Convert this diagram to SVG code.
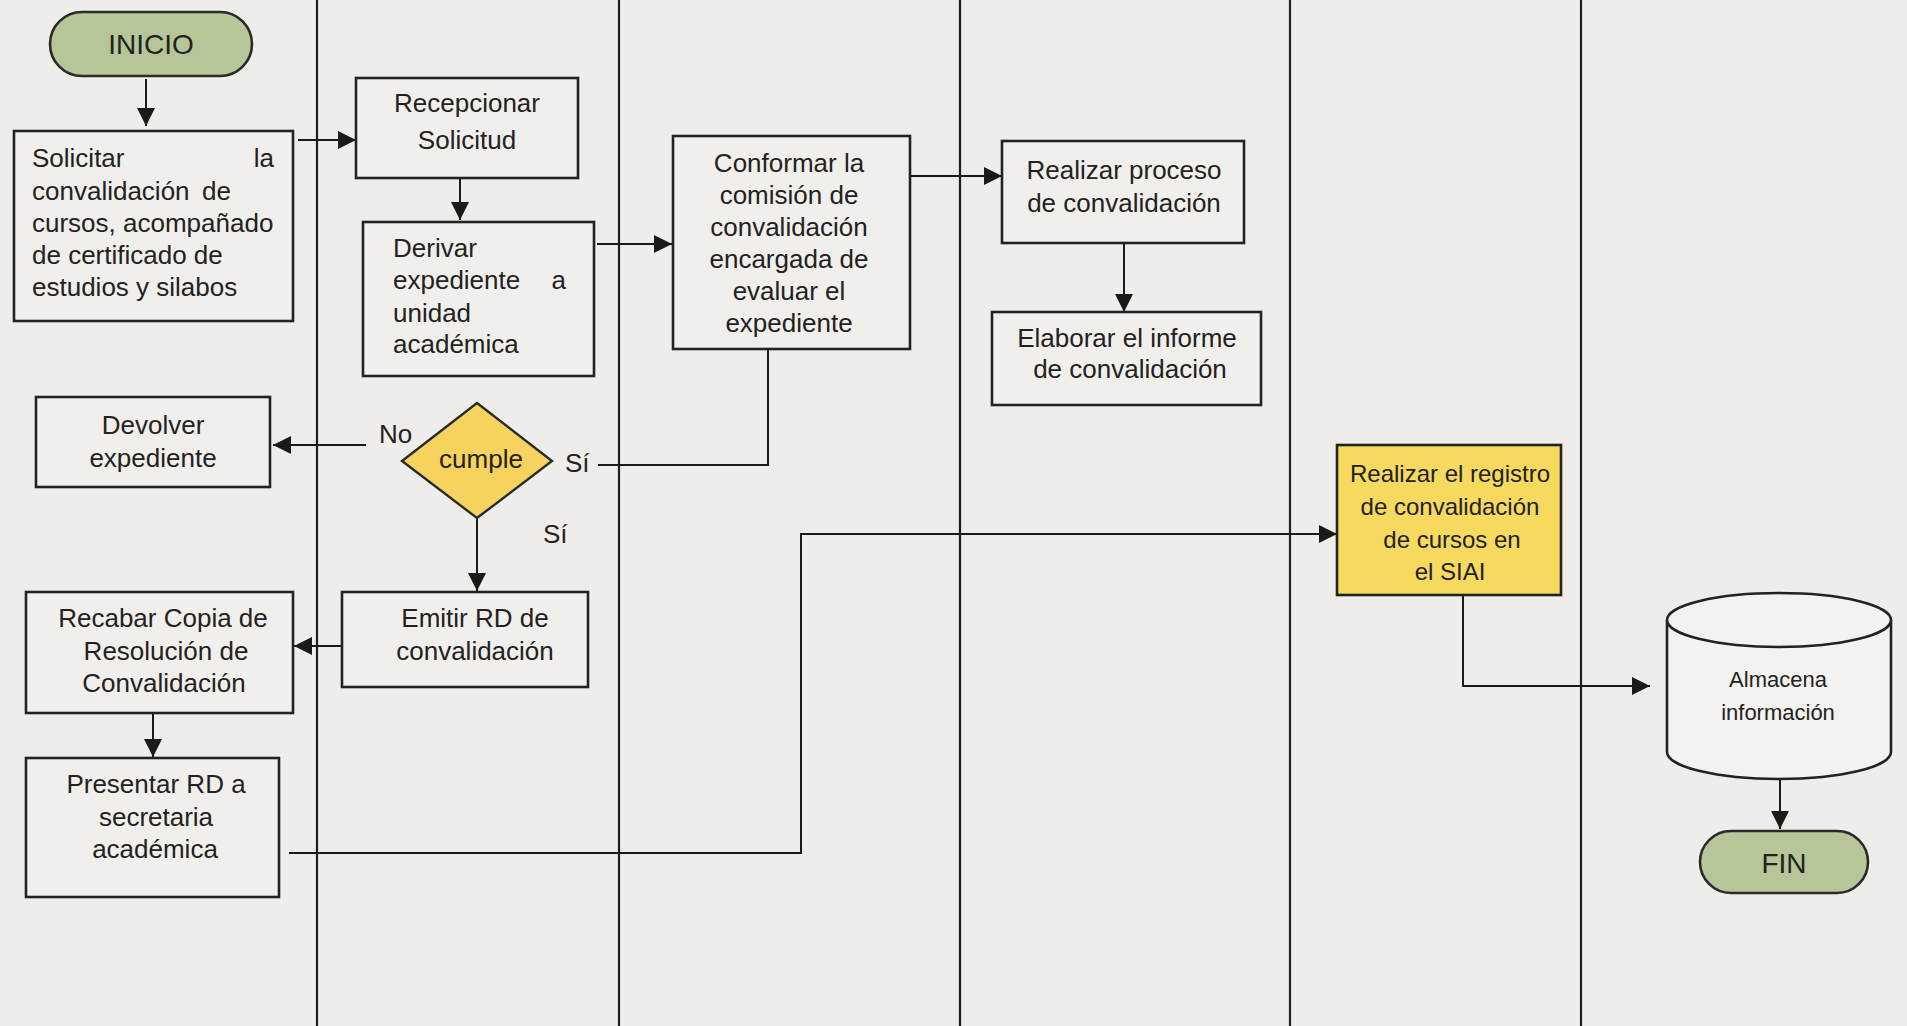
<svg xmlns="http://www.w3.org/2000/svg" width="1907" height="1026" viewBox="0 0 1907 1026">
<defs>
<style>
.bg{fill:#efede9}
.lane{stroke:#1e1e1e;stroke-width:2.2;fill:none}
.box{fill:#f1efeb;stroke:#222;stroke-width:2.6}
.term{fill:#b6c699;stroke:#2a2a2a;stroke-width:2.6}
.dec{fill:#f6d35e;stroke:#2a2a2a;stroke-width:2.4}
.hl{fill:#f7d95f;stroke:#222;stroke-width:2.6}
.cyl{fill:#f3f2ef;stroke:#222;stroke-width:2.6}
.conn{stroke:#1a1a1a;stroke-width:2;fill:none}
.arr{marker-end:url(#ah)}
text{font-family:"Liberation Sans",Arial,sans-serif;font-size:26px;fill:#222}
.c{text-anchor:middle}
.e{text-anchor:end}
.big{font-size:28px}
.sm{font-size:22px}
.md{font-size:24px}
</style>
<marker id="ah" markerUnits="userSpaceOnUse" markerWidth="20" markerHeight="18" refX="18" refY="9" orient="auto">
<path d="M0,0 L18,9 L0,18 Z" fill="#1a1a1a"/>
</marker>
</defs>
<rect class="bg" x="0" y="0" width="1907" height="1026"/>
<g id="lanes">
<line class="lane" x1="317" y1="0" x2="317" y2="1026"/>
<line class="lane" x1="619" y1="0" x2="619" y2="1026"/>
<line class="lane" x1="960" y1="0" x2="960" y2="1026"/>
<line class="lane" x1="1290" y1="0" x2="1290" y2="1026"/>
<line class="lane" x1="1581" y1="0" x2="1581" y2="1026"/>
</g>
<g id="connectors">
<line class="conn arr" x1="146" y1="79" x2="146" y2="126"/>
<line class="conn arr" x1="298" y1="140" x2="356" y2="140"/>
<line class="conn arr" x1="460" y1="178" x2="460" y2="220"/>
<line class="conn arr" x1="597" y1="244" x2="672" y2="244"/>
<line class="conn arr" x1="910" y1="176" x2="1002" y2="176"/>
<line class="conn arr" x1="1124" y1="243" x2="1124" y2="312"/>
<polyline class="conn" points="768,350 768,465 598,465"/>
<line class="conn arr" x1="366" y1="445" x2="273" y2="445"/>
<line class="conn arr" x1="477" y1="518" x2="477" y2="591"/>
<line class="conn arr" x1="351" y1="646" x2="294" y2="646"/>
<line class="conn arr" x1="153" y1="713" x2="153" y2="757"/>
<polyline class="conn arr" points="289,853 801,853 801,534 1337,534"/>
<polyline class="conn arr" points="1463,595 1463,686 1650,686"/>
<line class="conn arr" x1="1780" y1="779" x2="1780" y2="829"/>
</g>
<g id="inicio">
<rect class="term" x="50" y="12" width="202" height="64" rx="32"/>
<text class="c big" x="151" y="54">INICIO</text>
</g>
<g id="solicitar">
<rect class="box" x="14" y="131" width="279" height="190"/>
<text x="32" y="167">Solicitar</text>
<text class="e" x="274" y="167">la</text>
<text x="32" y="200">convalidación</text>
<text class="e" x="231" y="200">de</text>
<text x="32" y="232">cursos, acompañado</text>
<text x="32" y="264">de certificado de</text>
<text x="32" y="296">estudios y silabos</text>
</g>
<g id="recepcionar">
<rect class="box" x="356" y="78" width="222" height="100"/>
<text class="c" x="467" y="112">Recepcionar</text>
<text class="c" x="467" y="149">Solicitud</text>
</g>
<g id="derivar">
<rect class="box" x="363" y="222" width="231" height="154"/>
<text x="393" y="257">Derivar</text>
<text x="393" y="289">expediente</text>
<text class="e" x="566" y="289">a</text>
<text x="393" y="322">unidad</text>
<text x="393" y="353">académica</text>
</g>
<g id="conformar">
<rect class="box" x="673" y="136" width="237" height="213"/>
<text class="c" x="789" y="172">Conformar la</text>
<text class="c" x="789" y="204">comisión de</text>
<text class="c" x="789" y="236">convalidación</text>
<text class="c" x="789" y="268">encargada de</text>
<text class="c" x="789" y="300">evaluar el</text>
<text class="c" x="789" y="332">expediente</text>
</g>
<g id="realizar-proceso">
<rect class="box" x="1002" y="141" width="242" height="102"/>
<text class="c" x="1124" y="179">Realizar proceso</text>
<text class="c" x="1124" y="212">de convalidación</text>
</g>
<g id="elaborar">
<rect class="box" x="992" y="312" width="269" height="93"/>
<text class="c" x="1127" y="347">Elaborar el informe</text>
<text class="c" x="1130" y="378">de convalidación</text>
</g>
<g id="devolver">
<rect class="box" x="36" y="397" width="234" height="90"/>
<text class="c" x="153" y="434">Devolver</text>
<text class="c" x="153" y="467">expediente</text>
</g>
<g id="cumple">
<polygon class="dec" points="477,403 552,461 477,518 402,461"/>
<text class="c" x="481" y="468">cumple</text>
<text x="379" y="443">No</text>
<text x="565" y="472">Sí</text>
<text x="543" y="543">Sí</text>
</g>
<g id="emitir">
<rect class="box" x="342" y="592" width="246" height="95"/>
<text class="c" x="475" y="627">Emitir RD de</text>
<text class="c" x="475" y="660">convalidación</text>
</g>
<g id="recabar">
<rect class="box" x="26" y="592" width="267" height="121"/>
<text class="c" x="163" y="627">Recabar Copia de</text>
<text class="c" x="166" y="660">Resolución de</text>
<text class="c" x="164" y="692">Convalidación</text>
</g>
<g id="presentar">
<rect class="box" x="26" y="758" width="253" height="139"/>
<text class="c" x="156" y="793">Presentar RD a</text>
<text class="c" x="156" y="826">secretaria</text>
<text class="c" x="155" y="858">académica</text>
</g>
<g id="registro">
<rect class="hl" x="1337" y="445" width="224" height="150"/>
<text class="c md" x="1450" y="482">Realizar el registro</text>
<text class="c md" x="1450" y="515">de convalidación</text>
<text class="c md" x="1452" y="548">de cursos en</text>
<text class="c md" x="1450" y="580">el SIAI</text>
</g>
<g id="almacena">
<path class="cyl" d="M1667,620 L1667,752 A112,27 0 0 0 1891,752 L1891,620 A112,27 0 0 0 1667,620 Z"/>
<path class="cyl" d="M1667,620 A112,27 0 0 0 1891,620" fill="none"/>
<text class="c sm" x="1778" y="687">Almacena</text>
<text class="c sm" x="1778" y="720">información</text>
</g>
<g id="fin">
<rect class="term" x="1700" y="831" width="168" height="62" rx="31"/>
<text class="c big" x="1784" y="873">FIN</text>
</g>
</svg>
